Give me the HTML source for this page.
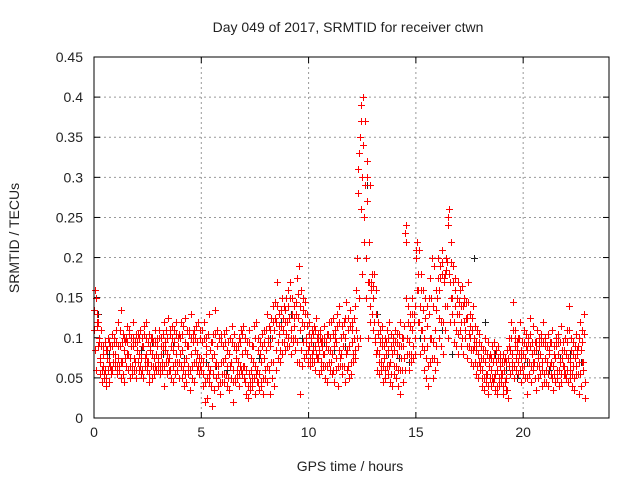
<!DOCTYPE html>
<html><head><meta charset="utf-8"><style>
html,body{margin:0;padding:0;background:#fff;}
svg{display:block;font-family:"Liberation Sans",sans-serif;}
</style></head><body>
<svg id="chart" width="640" height="480" viewBox="0 0 640 480">
<rect width="640" height="480" fill="#fff"/>
<text x="348" y="32" text-anchor="middle" font-size="14" fill="#222">Day 049 of 2017, SRMTID for receiver ctwn</text>
<text transform="translate(19,238) rotate(-90)" text-anchor="middle" font-size="14" fill="#222">SRMTID / TECUs</text>
<text x="350" y="471" text-anchor="middle" font-size="14" fill="#222">GPS time / hours</text>
<g id="grid"></g>
<g id="ticks"></g>
<g id="black"></g>
<g id="red"></g>
<rect x="94" y="57" width="515" height="361" fill="none" stroke="#000" stroke-width="1"/>
</svg>
<script>
const xTicks=[0,5,10,15,20];
const yTicks=[0,0.05,0.1,0.15,0.2,0.25,0.3,0.35,0.4,0.45];
const yTickLabels=["0","0.05","0.1","0.15","0.2","0.25","0.3","0.35","0.4","0.45"];
const timeStep=0.1;
const seriesA=[110,150,120,70,65,60,75,70,55,80,80,75,90,70,85,100,80,75,90,70,85,80,75,90,80,70,85,80,75,80,75,80,90,85,80,75,90,85,80,90,80,85,70,75,90,80,95,85,80,75,75,70,80,65,60,75,80,70,65,70,70,75,65,80,70,60,75,70,65,80,65,60,55,60,70,65,60,55,70,75,85,95,90,100,110,120,105,115,110,120,120,125,110,115,130,125,110,120,115,100,90,95,85,90,100,85,95,80,90,85,85,80,90,95,85,80,90,100,85,90,95,100,110,280,350,300,250,270,170,160,150,100,85,80,90,75,80,85,70,80,85,80,90,75,90,230,100,95,110,120,200,160,140,110,100,90,130,100,95,110,150,160,180,170,200,250,170,150,140,130,130,120,140,110,125,100,110,90,85,80,65,60,70,55,65,60,70,55,60,65,55,60,50,75,85,80,90,85,80,75,80,75,85,90,80,70,85,75,80,70,75,70,80,70,65,75,80,70,75,65,80,75,70,65,75,80,70,85,70];
const seriesB=[160,130,95,110,90,85,100,90,105,95,110,120,135,105,95,115,110,100,120,105,105,110,100,115,120,105,100,95,110,100,110,100,120,110,125,105,115,110,120,105,120,115,125,110,105,130,110,115,120,100,110,120,100,130,95,105,135,110,100,105,105,110,95,100,115,105,90,100,110,115,100,95,110,90,115,120,100,95,105,110,130,115,125,140,145,170,130,150,140,150,160,170,150,140,175,190,160,150,145,130,120,110,115,125,105,110,100,115,105,120,120,125,110,130,140,115,120,145,125,135,120,140,200,330,390,400,370,320,290,180,180,160,120,110,115,100,110,120,105,100,110,105,120,100,115,240,140,130,150,140,220,210,180,160,150,140,175,200,190,160,200,190,210,180,195,260,220,190,175,170,160,165,150,145,170,130,140,115,110,105,90,85,100,95,80,90,95,85,90,80,80,75,85,100,120,145,110,100,120,95,110,105,100,125,115,95,110,100,105,120,100,105,95,110,90,100,105,115,95,100,110,140,100,95,105,90,120,110,130];
const seriesC=[60,90,55,45,50,40,45,60,70,65,55,60,50,45,65,60,50,55,60,50,60,55,50,65,60,45,50,55,60,60,55,60,40,55,60,50,45,55,60,50,50,40,45,55,35,50,45,60,55,60,40,20,25,45,15,35,50,40,30,45,45,40,35,50,20,45,50,40,55,50,30,25,35,40,30,45,35,40,30,50,45,30,50,40,60,75,70,80,85,90,90,80,95,85,70,30,65,75,80,70,65,70,60,75,55,60,65,50,45,60,55,45,60,40,65,55,45,60,50,55,70,75,90,100,180,220,150,100,120,110,95,60,55,60,45,50,55,45,40,55,50,40,30,45,60,80,60,70,75,80,120,80,90,60,50,40,70,50,60,70,100,90,80,110,100,120,130,95,90,80,90,80,100,75,90,70,65,55,50,60,40,35,45,30,40,45,35,30,40,45,30,35,25,55,60,50,60,55,45,55,50,30,55,45,60,35,50,55,40,45,45,40,55,35,45,50,40,45,55,50,45,50,40,35,55,30,40,60,25];
const seriesD=[135,115,100,90,80,95,85,95,90,100,95,90,110,95,100,95,105,90,100,95,95,100,90,105,100,95,90,100,95,90,100,90,105,95,100,110,100,95,105,100,100,105,95,90,110,100,105,100,95,110,95,100,90,105,85,95,105,90,100,95,90,95,85,100,95,90,85,90,95,105,85,80,95,75,90,100,85,80,90,95,110,100,110,120,125,140,115,135,125,135,140,150,130,125,145,155,140,135,130,115,105,100,105,110,95,100,90,100,95,105,100,105,100,115,120,100,105,125,110,115,110,125,160,310,370,340,290,300,220,170,165,130,105,95,100,90,95,100,90,95,95,95,105,90,100,220,120,115,130,130,210,180,160,135,125,115,150,150,140,135,175,175,195,175,185,240,195,170,160,150,145,140,145,125,145,115,125,100,95,95,75,75,85,80,75,75,80,70,75,75,70,70,70,90,100,110,100,95,100,85,95,90,95,105,95,85,95,90,95,95,90,90,85,95,80,90,95,95,85,85,95,110,85,80,90,85,100,95,105];
const seriesE=[85,120,75,60,55,50,60,65,60,70,65,65,70,55,75,80,65,65,75,60,70,65,60,75,70,55,65,65,65,70,65,70,65,70,70,60,65,70,70,70,65,60,55,65,60,65,70,70,65,65,55,45,50,55,40,55,65,55,45,55,55,55,50,65,45,50,60,55,60,65,45,40,45,50,50,55,45,45,50,60,65,60,70,70,85,95,85,95,95,105,100,100,100,100,95,70,85,95,95,85,75,80,70,80,75,70,80,65,65,70,70,60,75,65,75,65,65,80,65,70,80,85,100,150,260,250,200,170,140,130,120,80,70,70,65,60,65,65,55,65,65,60,60,60,75,150,80,80,90,100,160,120,110,85,75,65,100,75,75,90,125,120,120,140,140,180,150,120,110,105,110,100,120,90,105,85,85,70,65,70,50,50,55,40,50,50,50,40,50,55,40,45,35,65,70,65,75,70,60,65,65,50,70,65,70,50,65,65,60,55,60,55,65,50,55,60,60,55,65,55,60,60,55,50,65,55,55,70,45];
const blackStep=0.5;
const seriesBlack=[130,80,90,75,85,95,80,90,75,100,70,65,60,70,55,75,100,120,130,100,90,95,85,90,110,290,130,80,75,70,100,150,110,80,140,200,120,80,60,50,70,80,60,75,80,70];

const NS="http://www.w3.org/2000/svg";
const X0=94,X1=609,Y0=418,Y1=57,XMAX=24,YMAX=0.45;
function xs(t){return X0+(X1-X0)*t/XMAX;}
function ys(v){return Y0-(Y0-Y1)*v/YMAX;}
function mk(tag,attrs,parent){const e=document.createElementNS(NS,tag);for(const k in attrs)e.setAttribute(k,attrs[k]);parent.appendChild(e);return e;}
const grid=document.getElementById('grid'),ticks=document.getElementById('ticks');
xTicks.forEach((t,i)=>{
  const x=xs(t);
  if(t>0){const g=mk('line',{x1:x,x2:x,y1:Y1,y2:Y0,stroke:'#999','stroke-dasharray':'2,3'},grid);
  
  }
  mk('line',{x1:x,x2:x,y1:Y0,y2:Y0-6,stroke:'#000'},ticks);
  mk('line',{x1:x,x2:x,y1:Y1,y2:Y1+6,stroke:'#000'},ticks);
  const l=mk('text',{x:x,y:Y0+19,'text-anchor':'middle','font-size':'14',fill:'#222'},ticks);
  l.textContent=String(t);
  
  
});
yTicks.forEach((v,i)=>{
  const y=ys(v);
  if(v>0){const g=mk('line',{x1:X0,x2:X1,y1:y,y2:y,stroke:'#999','stroke-dasharray':'2,3'},grid);
  
  }
  mk('line',{x1:X0,x2:X0+6,y1:y,y2:y,stroke:'#000'},ticks);
  mk('line',{x1:X1,x2:X1-6,y1:y,y2:y,stroke:'#000'},ticks);
  const l=mk('text',{x:X0-11,y:y+5,'text-anchor':'end','font-size':'14',fill:'#222'},ticks);
  l.textContent=yTickLabels[i];
  
  
});
function plus(parent,t,v,color){
  const x=Math.round(xs(t))+0.5,y=Math.round(ys(v))+0.5;
  const p=mk('path',{d:`M${x-3.5},${y}H${x+3.5}M${x},${y-3.5}V${y+3.5}`,stroke:color,'stroke-width':'1',fill:'none'},parent);
  
  
}
const black=document.getElementById('black'),red=document.getElementById('red');
seriesBlack.forEach((v,i)=>plus(black,i*blackStep+0.2,v/1000,'#222'));
seriesA.forEach((v,i)=>plus(red,i*timeStep,v/1000,'#ff0000'));
seriesD.forEach((v,i)=>plus(red,i*timeStep+0.02,v/1000,'#ff0000'));
seriesB.forEach((v,i)=>plus(red,i*timeStep+0.04,v/1000,'#ff0000'));
seriesE.forEach((v,i)=>plus(red,i*timeStep+0.06,v/1000,'#ff0000'));
seriesC.forEach((v,i)=>plus(red,i*timeStep+0.08,v/1000,'#ff0000'));
</script>
</body></html>
